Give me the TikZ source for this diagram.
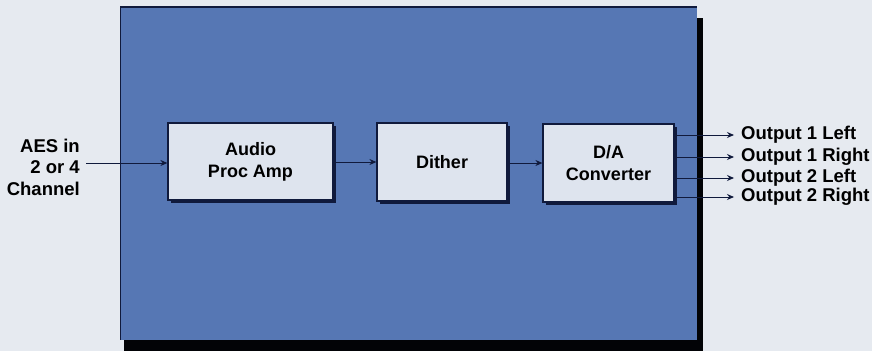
\documentclass[tikz,border=0pt]{standalone}
\usepackage{fontspec}
\setmainfont{Liberation Sans}
\usetikzlibrary{arrows.meta}
\definecolor{bg}{RGB}{230,234,240}
\definecolor{panel}{RGB}{86,119,180}
\definecolor{boxfill}{RGB}{222,228,238}
\definecolor{navy}{RGB}{16,26,60}
\begin{document}
\begin{tikzpicture}[x=1pt,y=-1pt,
  blk/.style={draw=navy,line width=1.2pt,fill=boxfill,align=center,inner sep=0pt,
    font=\fontsize{18}{22}\selectfont\bfseries},
  conn/.style={draw=navy,line width=1pt,-{Stealth[length=7pt,width=6pt]}},
  lbl/.style={font=\fontsize{18.5}{21.5}\selectfont\bfseries,inner sep=0pt}]
\fill[bg] (0,0) rectangle (872,351);
\useasboundingbox (0,0) rectangle (872,351);
% panel shadow and panel
\fill[black!90!navy] (124,18) rectangle (703,351);
\fill[panel] (120,7) rectangle (697,340);
\draw[navy,line width=1.2pt] (120,7) -- (697,7);
\draw[navy,line width=1pt] (120,7) -- (120,340);
% block shadows
\fill[navy] (171,126) rectangle (336,203);
\fill[navy] (380,126) rectangle (510,204);
\fill[navy] (546,127) rectangle (677,205);
% blocks
\node[blk,minimum width=165pt,minimum height=77pt] (amp) at (250.5,161.5) {Audio\\Proc Amp};
\node[blk,minimum width=130pt,minimum height=78pt] (dith) at (442,162) {Dither};
\node[blk,minimum width=131pt,minimum height=78pt] (dac) at (608.5,163) {D/A\\Converter};
% input
\node[lbl,align=right,anchor=east] (in) at (80,167) {AES in\\2 or 4\\Channel};
\coordinate (inS) at (86,163);
\draw[conn] (inS) -- (amp.west |- inS);
\draw[conn] (amp.east |- 0,162) -- (dith.west |- 0,162);
\draw[conn] (dith.east |- 0,163) -- (dac.west |- 0,163);
% outputs
\foreach \y/\t/\n in {135/Output 1 Left/o1,157/Output 1 Right/o2,178/Output 2 Left/o3,197/Output 2 Right/o4}{
  \node[lbl,anchor=west] (\n) at (741,\y) {\t};
  \draw[conn,shorten >=7pt] (dac.east |- 0,\y) -- (\n.west);
}
\end{tikzpicture}
\end{document}
